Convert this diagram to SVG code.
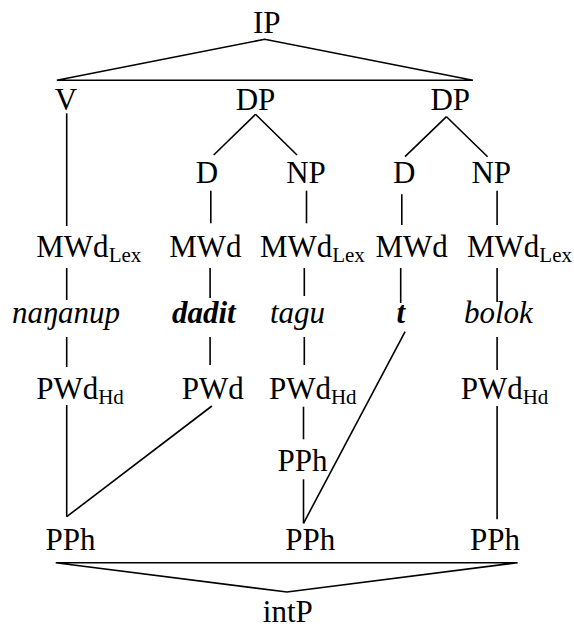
<svg xmlns="http://www.w3.org/2000/svg" width="574" height="628" viewBox="0 0 574 628">
<style>
text{font-size:31px;fill:#000}
.m{text-anchor:middle}
.i{font-style:italic}
.b{font-weight:bold}
.sub{font-size:21px}
#edges line,#edges polyline{stroke:#000;stroke-width:1.6;fill:none;stroke-linecap:butt}
</style>
<rect width="574" height="628" fill="#fff"/>
<g id="edges">
<polyline points="56.8,80.3 264.7,39.3 472.9,80.3 56.8,80.3" stroke-linejoin="miter"/>
<line x1="255.5" y1="114.3" x2="213.7" y2="155"/>
<line x1="255.5" y1="114.3" x2="297" y2="155"/>
<line x1="446.5" y1="116.7" x2="405" y2="156.7"/>
<line x1="446.5" y1="116.7" x2="487.6" y2="156.7"/>
<line x1="66.7" y1="113.3" x2="66.7" y2="226"/>
<line x1="210.8" y1="190.7" x2="210.8" y2="223.3"/>
<line x1="306.5" y1="190.7" x2="306.5" y2="223.3"/>
<line x1="401.8" y1="194.3" x2="401.8" y2="225"/>
<line x1="497.1" y1="190.7" x2="497.1" y2="225"/>
<line x1="66.7" y1="268" x2="66.7" y2="300"/>
<line x1="210.1" y1="268" x2="210.1" y2="298"/>
<line x1="304.3" y1="268" x2="304.3" y2="296"/>
<line x1="400.7" y1="268" x2="400.7" y2="303"/>
<line x1="497.1" y1="268" x2="497.1" y2="302"/>
<line x1="66.7" y1="337" x2="66.7" y2="367"/>
<line x1="210.1" y1="337" x2="210.1" y2="365"/>
<line x1="304.3" y1="337" x2="304.3" y2="365"/>
<line x1="497.1" y1="337" x2="497.1" y2="370"/>
<line x1="405.1" y1="331.7" x2="303.5" y2="523.3"/>
<line x1="66.7" y1="405" x2="66.7" y2="516.7"/>
<line x1="211.9" y1="406" x2="66.7" y2="516.7"/>
<line x1="303.5" y1="406.7" x2="303.5" y2="439.3"/>
<line x1="303.5" y1="479.3" x2="303.5" y2="523.3"/>
<line x1="497.1" y1="406" x2="497.1" y2="519.3"/>
<polyline points="55.7,562.7 517.6,562.7 287,592 55.7,562.7" stroke-linejoin="miter"/>
</g>
<g id="IP"><text font-family="Liberation Serif" class="m" x="266.7" y="33.3">IP</text></g>
<g id="V"><text font-family="Liberation Serif" class="m" x="66" y="110">V</text></g>
<g id="DP1"><text font-family="Liberation Serif" class="m" x="255.5" y="110">DP</text></g>
<g id="DP2"><text font-family="Liberation Serif" class="m" x="450.2" y="110">DP</text></g>
<g id="D1"><text font-family="Liberation Serif" class="m" x="207" y="183.3">D</text></g>
<g id="NP1"><text font-family="Liberation Serif" class="m" x="306" y="183.3">NP</text></g>
<g id="D2"><text font-family="Liberation Serif" class="m" x="404.3" y="183.3">D</text></g>
<g id="NP2"><text font-family="Liberation Serif" class="m" x="491.2" y="183.3">NP</text></g>
<g id="MWd1"><text font-family="Liberation Serif" x="36.3" y="256.5">MWd<tspan class="sub" dy="5">Lex</tspan></text></g>
<g id="MWd2"><text font-family="Liberation Serif" x="169.3" y="256.5">MWd</text></g>
<g id="MWd3"><text font-family="Liberation Serif" x="259.9" y="256.5">MWd<tspan class="sub" dy="5">Lex</tspan></text></g>
<g id="MWd4"><text font-family="Liberation Serif" x="375.4" y="256.5">MWd</text></g>
<g id="MWd5"><text font-family="Liberation Serif" x="467" y="256.5">MWd<tspan class="sub" dy="5">Lex</tspan></text></g>
<g id="w1"><text font-family="Liberation Serif" class="i" x="12" y="323">naŋanup</text></g>
<g id="w2"><text font-family="Liberation Serif" class="i b" x="172" y="323">dadit</text></g>
<g id="w3"><text font-family="Liberation Serif" class="i" x="270" y="323">tagu</text></g>
<g id="w4"><text font-family="Liberation Serif" class="i b" x="396.5" y="323">t</text></g>
<g id="w5"><text font-family="Liberation Serif" class="i" x="464" y="323">bolok</text></g>
<g id="PWd1"><text font-family="Liberation Serif" x="36.2" y="398.5">PWd<tspan class="sub" dy="5">Hd</tspan></text></g>
<g id="PWd2"><text font-family="Liberation Serif" x="181.7" y="398.5">PWd</text></g>
<g id="PWd3"><text font-family="Liberation Serif" x="268.9" y="398.5">PWd<tspan class="sub" dy="5">Hd</tspan></text></g>
<g id="PWd4"><text font-family="Liberation Serif" x="460.7" y="398.5">PWd<tspan class="sub" dy="5">Hd</tspan></text></g>
<g id="PPhMid"><text font-family="Liberation Serif" class="m" x="302.5" y="470.7">PPh</text></g>
<g id="PPh1"><text font-family="Liberation Serif" class="m" x="70.5" y="550">PPh</text></g>
<g id="PPh2"><text font-family="Liberation Serif" class="m" x="310.3" y="550">PPh</text></g>
<g id="PPh3"><text font-family="Liberation Serif" class="m" x="494.9" y="550">PPh</text></g>
<g id="intP"><text font-family="Liberation Serif" class="m" x="287.8" y="622">intP</text></g>
</svg>
